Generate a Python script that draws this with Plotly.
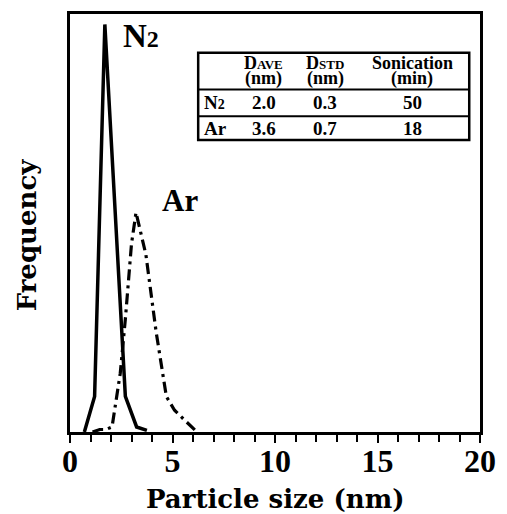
import plotly.graph_objects as go

# ---- data ----
n2_size = [0.7, 1.2, 1.7, 2.7, 3.25, 3.75]
n2_freq = [0.0, 0.085, 0.975, 0.085, 0.012, 0.004]

ar_size = [1.1, 1.45, 1.75, 2.05, 2.45, 2.7, 3.0, 3.22, 3.7, 4.2, 4.7, 5.1, 5.6, 6.0, 6.2]
ar_freq = [0.0, 0.006, 0.006, 0.012, 0.14, 0.27, 0.45, 0.525, 0.425, 0.24, 0.085, 0.052, 0.028, 0.008, 0.0]

x_ticks = [0, 5, 10, 15, 20]

table_header = [["D", "AVE", "(nm)"], ["D", "STD", "(nm)"], ["Sonication", "", "(min)"]]
table_rows = ["N2", "Ar"]
table_dave = ["2.0", "3.6"]
table_dstd = ["0.3", "0.7"]
table_son = ["50", "18"]

SERIF_W = "DejaVu Serif"
SERIF = "Liberation Serif"

fig = go.Figure()
fig.add_trace(go.Scatter(x=n2_size, y=n2_freq, mode="lines",
                         line=dict(color="black", width=3.5), showlegend=False))
fig.add_trace(go.Scatter(x=ar_size, y=ar_freq, mode="lines",
                         line=dict(color="black", width=3.2, dash="11px,5px,3px,5px"),
                         showlegend=False))

W, H = 507, 514
L, R, T, B = 70, 18, 11, 82
pw, ph = W - L - R, H - T - B

def px(xp):
    return (xp - L) / pw

def py(yp):
    return (H - B - yp) / ph

fig.update_layout(
    width=W, height=H, autosize=False,
    margin=dict(l=L, r=R, t=T, b=B),
    paper_bgcolor="white", plot_bgcolor="white",
    xaxis=dict(range=[0, 20], tickvals=x_ticks, ticktext=[str(v) for v in x_ticks],
               ticks="outside", ticklen=8, tickwidth=2, tickcolor="black",
               showline=True, linewidth=3, linecolor="black", mirror=True,
               showgrid=False, zeroline=False, ticklabelstandoff=-9,
               ticklabeloverflow="allow",
               tickfont=dict(family=SERIF, size=32, color="black", weight="bold"),
               minor=dict(dtick=1, ticks="outside", ticklen=7, tickwidth=2, tickcolor="black")),
    yaxis=dict(range=[0, 1], showticklabels=False, ticks="",
               showline=True, linewidth=3, linecolor="black", mirror=True,
               showgrid=False, zeroline=False),
)

ann = []
# axis titles
ann.append(dict(text="<b>Particle size (nm)</b>", x=px(279), y=py(499), xref="paper", yref="paper",
                showarrow=False, xanchor="center", yanchor="middle",
                font=dict(family=SERIF_W, size=26, color="black")))
ann.append(dict(text="<b>Frequency</b>", x=px(26), y=py(233), xref="paper", yref="paper",
                showarrow=False, textangle=-90, xanchor="center", yanchor="middle",
                font=dict(family=SERIF_W, size=26, color="black")))
# curve labels
ann.append(dict(text="<b>N<span style='font-size:24px'>2</span></b>", x=px(143), y=py(33),
                xref="paper", yref="paper", showarrow=False, xanchor="center", yanchor="middle",
                font=dict(family=SERIF, size=33, color="black")))
ann.append(dict(text="<b>Ar</b>", x=px(182), y=py(199), xref="paper", yref="paper",
                showarrow=False, xanchor="center", yanchor="middle",
                font=dict(family=SERIF, size=31, color="black")))

# table
tl, tr, tt, th, tm, tb = 201, 478, 50, 87, 114, 138
shapes = [
    dict(type="rect", xref="paper", yref="paper", x0=px(tl), x1=px(tr), y0=py(tb), y1=py(tt),
         line=dict(color="black", width=2.5), fillcolor="white", layer="above"),
    dict(type="line", xref="paper", yref="paper", x0=px(tl), x1=px(tr), y0=py(th), y1=py(th),
         line=dict(color="black", width=2)),
    dict(type="line", xref="paper", yref="paper", x0=px(tl), x1=px(tr), y0=py(tm), y1=py(tm),
         line=dict(color="black", width=2)),
]
fig.update_layout(shapes=shapes)

col_x = [268, 331, 420]
for cx, hdr in zip(col_x, table_header):
    big, small, unit = hdr
    if small:
        t1 = f"<b>{big}<span style='font-size:13px'>{small}</span></b>"
    else:
        t1 = f"<b>{big}</b>"
    ann.append(dict(text=t1, x=px(cx), y=py(60), xref="paper", yref="paper", showarrow=False,
                    xanchor="center", yanchor="middle", font=dict(family=SERIF, size=18, color="black")))
    ann.append(dict(text=f"<b>{unit}</b>", x=px(cx), y=py(76), xref="paper", yref="paper", showarrow=False,
                    xanchor="center", yanchor="middle", font=dict(family=SERIF, size=18, color="black")))

row_y = [100, 126]
for ry, lab, a, b, c in zip(row_y, table_rows, table_dave, table_dstd, table_son):
    lab_txt = "<b>N<span style='font-size:14px'>2</span></b>" if lab == "N2" else f"<b>{lab}</b>"
    ann.append(dict(text=lab_txt, x=px(205), y=py(ry), xref="paper", yref="paper", showarrow=False,
                    xanchor="left", yanchor="middle", font=dict(family=SERIF, size=19, color="black")))
    for cx, v in zip(col_x, [a, b, c]):
        ann.append(dict(text=f"<b>{v}</b>", x=px(cx), y=py(ry), xref="paper", yref="paper",
                        showarrow=False, xanchor="center", yanchor="middle",
                        font=dict(family=SERIF, size=19, color="black")))

fig.update_layout(annotations=ann)

html = fig.to_html(full_html=True, include_plotlyjs=True,
                   config={"responsive": False, "displayModeBar": False})
html = html.replace("<head>", "<head><style>html,body{margin:0;padding:0;overflow:hidden;}</style>", 1)
with open("out.html", "w", encoding="utf-8") as f:
    f.write(html)
